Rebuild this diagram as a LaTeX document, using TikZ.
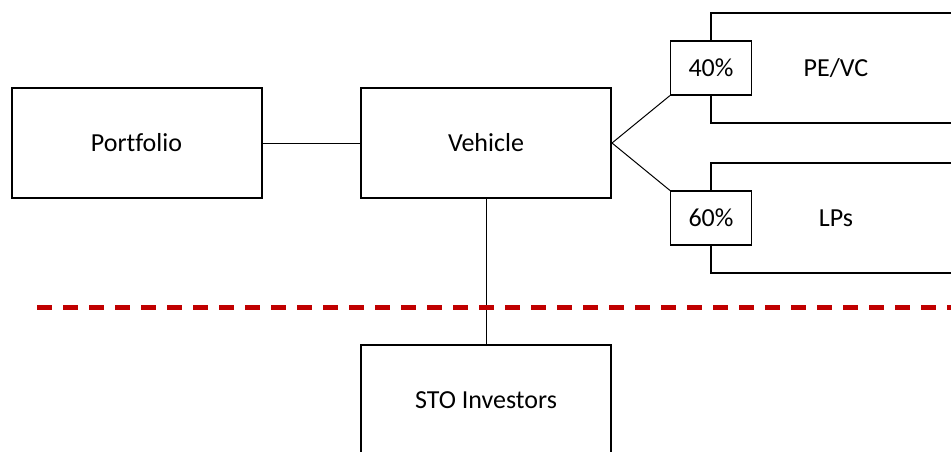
\documentclass[tikz,border=0pt]{standalone}
\usepackage{fontspec}
\setmainfont[Ligatures=NoCommon]{Carlito}
\usepackage{tikz}
\usetikzlibrary{positioning}
\definecolor{cutred}{RGB}{192,0,0}

\begin{document}
\begin{tikzpicture}[x=0.5pt,y=-0.5pt,
  box/.style={draw, line width=1pt, minimum width=125pt, minimum height=55pt,
              inner sep=0pt, font=\fontsize{13}{15}\selectfont},
  pctbox/.style={draw, line width=0.6pt, fill=white, minimum width=40.5pt,
                 minimum height=27pt, inner sep=0pt, font=\fontsize{13}{15}\selectfont},
  link/.style={line width=0.5pt}]

% Frame of the picture
\useasboundingbox (0,0) rectangle (951,451);
\clip (0,0) rectangle (951,451);

% Main boxes
\node[box] (portfolio) at (136.5,143) {Portfolio};
\node[box] (vehicle)   at (486,143)   {Vehicle};
\node[box] (sto)       at (486,400)   {STO Investors};

% Investor boxes (cut at the right edge)
\node[box] (pevc) at (836,68)  {PE/VC};
\node[box] (lps)  at (836,218) {LPs};

% Shares
\node[pctbox] (pct40) at ([xshift=0.5pt]pevc.west) {40\%};
\node[pctbox] (pct60) at ([xshift=0.5pt]lps.west)  {60\%};

% Links
\draw[link] (portfolio.east) -- (vehicle.west);
\draw[link] (vehicle.east) -- (pct40.south west);
\draw[link] (vehicle.east) -- (pct60.north west);
\draw[link] (vehicle.south) -- (sto.north);

% Dividing line
\draw[cutred, line width=2.5pt, dash pattern=on 7.5pt off 5.5pt] (37,307) -- (960,307);

\end{tikzpicture}
\end{document}
